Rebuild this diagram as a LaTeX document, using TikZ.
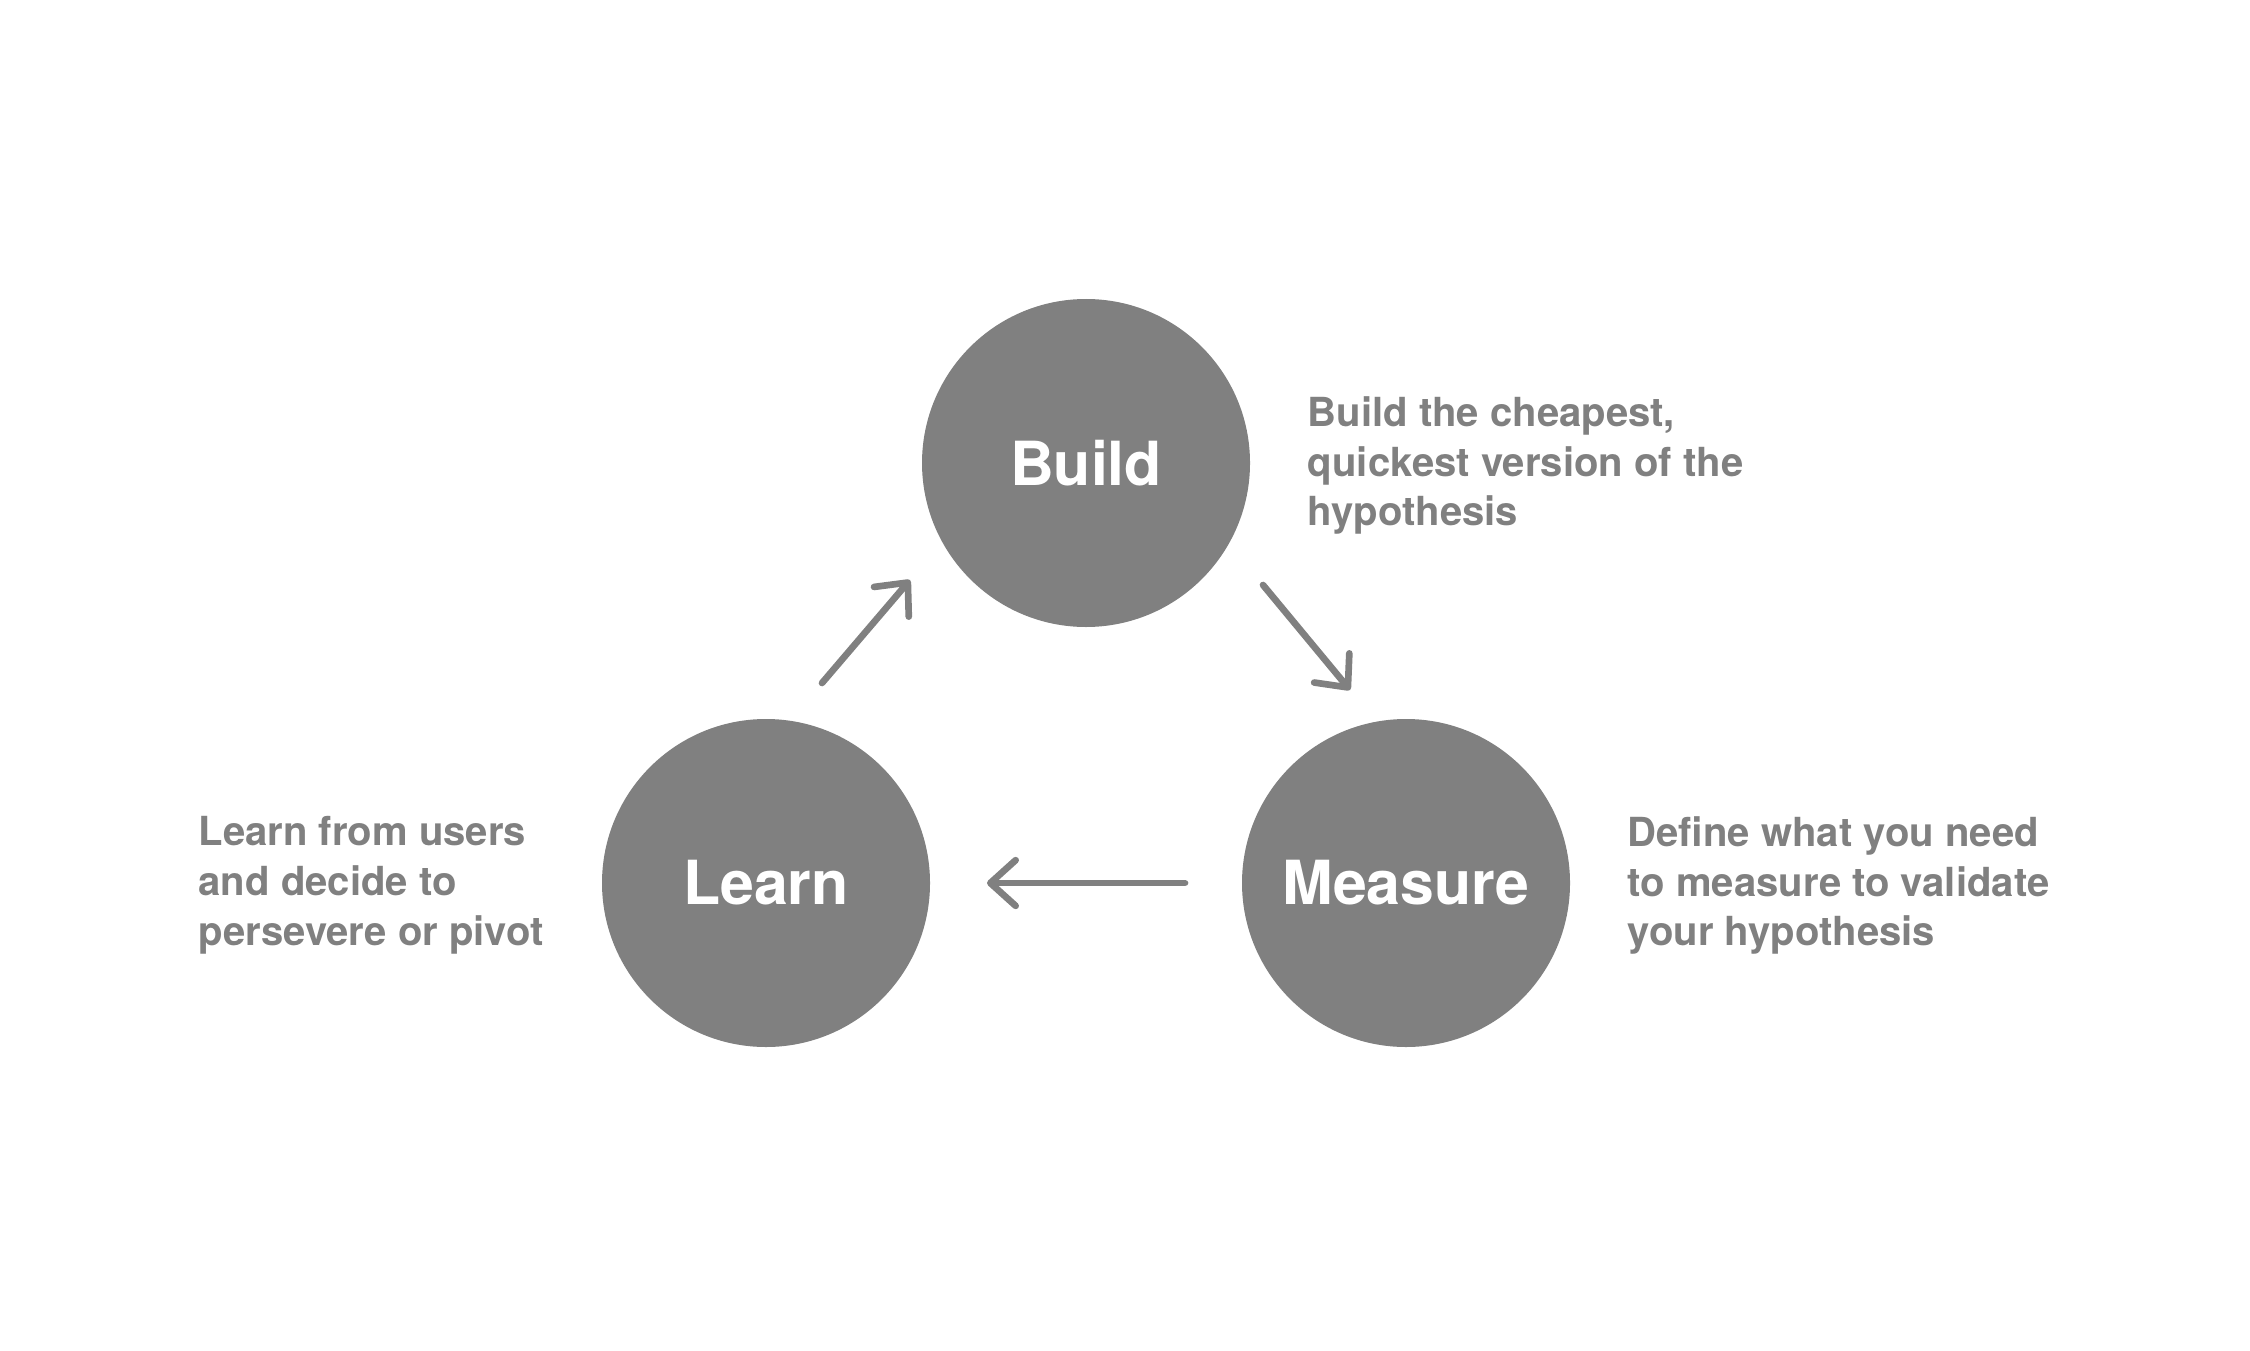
\documentclass[tikz,border=0pt]{standalone}
\usepackage{fontspec}
\setmainfont{TeX Gyre Heros}
\usetikzlibrary{arrows.meta}
\definecolor{cgray}{RGB}{128,128,128}
\begin{document}
\begin{tikzpicture}[
  phase/.style={circle,fill=cgray,minimum size=3.28cm,inner sep=0pt,text=white,font=\fontsize{17.3}{20}\selectfont\bfseries},
  note/.style={anchor=north west,inner sep=0pt,align=left,text=cgray,font=\fontsize{11.4}{14.1}\selectfont\bfseries},
  flow/.style={cgray,line width=1.9pt,line cap=round,line join=round,-{Straight Barb[length=7.2pt,width=13pt,round]}}]
\useasboundingbox(0,0)rectangle(22.5,13.5);
\node[phase](kB)at(10.86,8.87){Build};
\node[phase](kL)at(7.66,4.67){Learn};
\node[phase](kM)at(14.06,4.67){Measure};
\node[note](tB)at(13.07,9.54){Build the cheapest,\\quickest version of the\\hypothesis};
\node[note](tL)at(1.98,5.34){Learn from users\\and decide to\\persevere or pivot};
\node[note](tM)at(16.27,5.34){Define what you need\\to measure to validate\\your hypothesis};
\path(kL)++(0.56,2.0)coordinate(a1)++(0.88,1.03)coordinate(a2);
\path(kB)++(1.77,-1.22)coordinate(a3)++(0.87,-1.05)coordinate(a4);
\path(kM)++(-2.21,0)coordinate(a5)++(-1.98,0)coordinate(a6);
\draw[flow](a1)--(a2);
\draw[flow](a3)--(a4);
\draw[flow](a5)--(a6);
\end{tikzpicture}
\end{document}
